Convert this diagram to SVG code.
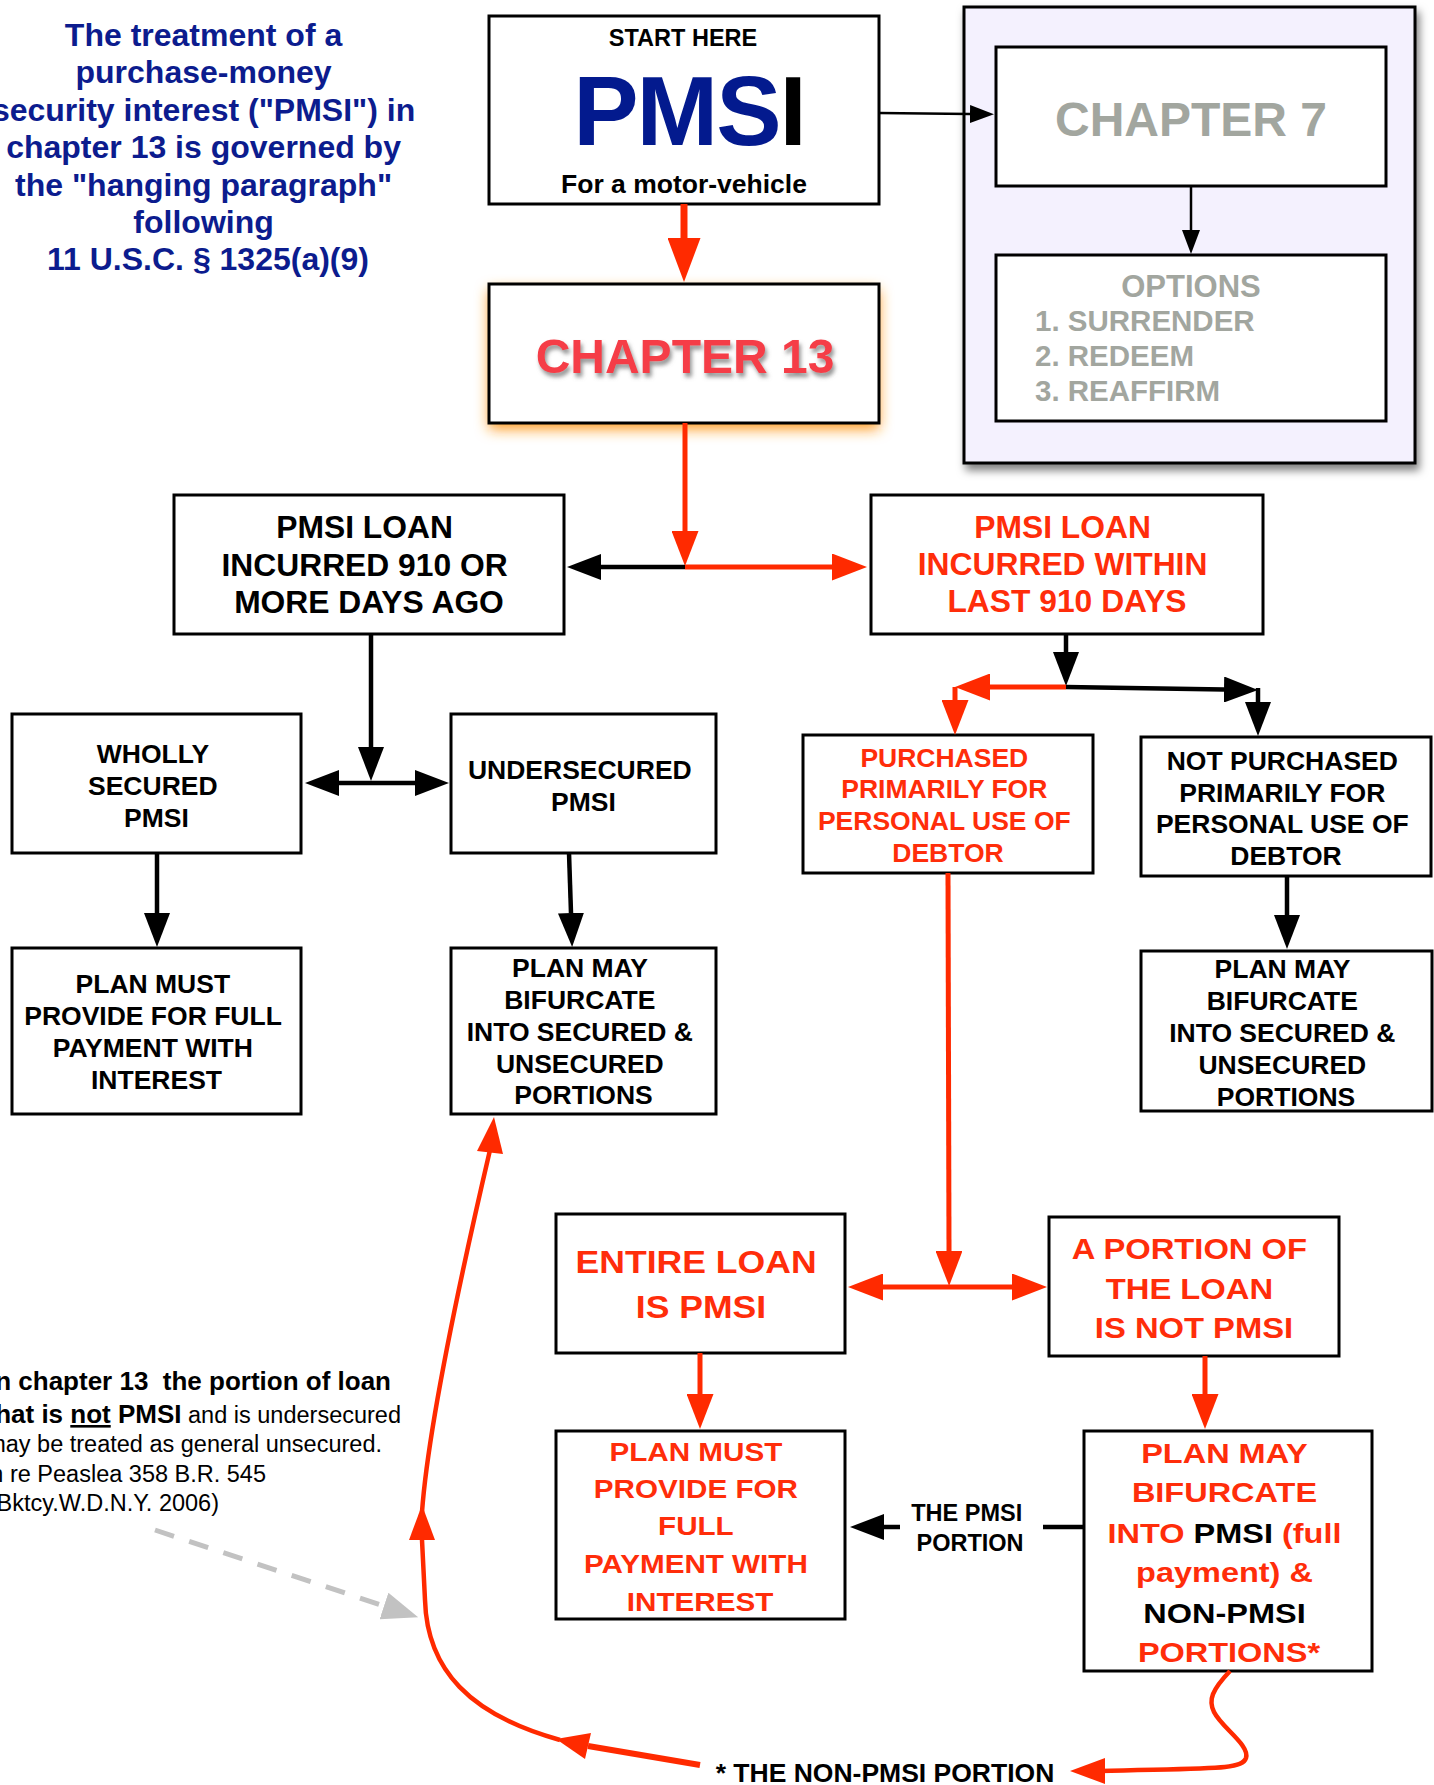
<svg xmlns="http://www.w3.org/2000/svg" width="1434" height="1785" viewBox="0 0 1434 1785">
<style>
.box{fill:#fff;stroke:#000;stroke-width:3}
.t{font-family:"Liberation Sans",Arial,Helvetica,sans-serif;font-weight:bold;text-anchor:middle}
.n{font-family:"Liberation Sans",Arial,Helvetica,sans-serif}
.red{fill:#ff2d0a}
.blk{fill:#000}
.gry{fill:#a2a69f}
.cb{stroke:#000;stroke-width:4.5;fill:none}
.cr{stroke:#ff2a00;stroke-width:5;fill:none}
.ah{fill:#ff2a00}
</style>
<defs>
<marker id="mb" markerUnits="userSpaceOnUse" markerWidth="34" markerHeight="26" refX="0" refY="13" orient="auto"><path d="M0,0 L34,13 L0,26 z" fill="#000"/></marker>
<marker id="ms" markerUnits="userSpaceOnUse" markerWidth="24" markerHeight="18" refX="0" refY="9" orient="auto"><path d="M0,0 L24,9 L0,18 z" fill="#000"/></marker>
<marker id="mr" markerUnits="userSpaceOnUse" markerWidth="35" markerHeight="27" refX="0" refY="13.5" orient="auto"><path d="M0,0 L35,13.5 L0,27 z" fill="#ff2a00"/></marker>
<marker id="mrl" markerUnits="userSpaceOnUse" markerWidth="44" markerHeight="33" refX="0" refY="16.5" orient="auto"><path d="M0,0 L44,16.5 L0,33 z" fill="#ff2a00"/></marker>
<marker id="mg" markerUnits="userSpaceOnUse" markerWidth="36" markerHeight="28" refX="0" refY="14" orient="auto"><path d="M0,0 L36,14 L0,28 z" fill="#c2c2c2"/></marker>
<filter id="glow" x="-20%" y="-40%" width="140%" height="180%"><feGaussianBlur stdDeviation="7"/></filter>
<filter id="tsh" x="-10%" y="-30%" width="120%" height="160%"><feDropShadow dx="2" dy="4" stdDeviation="2" flood-color="#777" flood-opacity="0.8"/></filter>
<filter id="psh" x="-10%" y="-10%" width="125%" height="125%"><feDropShadow dx="3" dy="6" stdDeviation="4" flood-color="#000" flood-opacity="0.5"/></filter>
</defs>

<g id="title">
<text class="t" style="font-size:32px" fill="#0c1c8e">
<tspan x="208" y="46">The treatment of a</tspan>
<tspan x="208" y="83">purchase-money</tspan>
<tspan x="208" y="121">security interest ("PMSI") in</tspan>
<tspan x="208" y="158">chapter 13 is governed by</tspan>
<tspan x="208" y="196">the "hanging paragraph"</tspan>
<tspan x="208" y="233">following</tspan>
<tspan x="208" y="270">11 U.S.C. § 1325(a)(9)</tspan>
</text>
</g>

<g id="start-pmsi">
<rect class="box" x="489" y="16" width="390" height="188"/>
<text class="t blk" x="683" y="46" style="font-size:23.5px">START HERE</text>
<text class="t" x="689" y="145" style="font-size:98px;letter-spacing:-2px"><tspan fill="#031a8e">PMS</tspan><tspan fill="#000">I</tspan></text>
<text class="t blk" x="684" y="193" style="font-size:26.5px">For a motor-vehicle</text>
</g>

<g id="chapter13">
<rect x="489" y="290" width="390" height="139" fill="#ff9a1a" filter="url(#glow)"/>
<rect class="box" x="489" y="284" width="390" height="139"/>
<text class="t" x="685" y="373" style="font-size:48px" fill="#f53c46" filter="url(#tsh)">CHAPTER 13</text>
</g>

<g id="chapter7-panel">
<rect x="964" y="7" width="451" height="456" fill="#f4f1fe" stroke="#000" stroke-width="3" filter="url(#psh)"/>
<g id="chapter7">
<rect class="box" x="996" y="47" width="390" height="139"/>
<text class="t gry" x="1191" y="136" style="font-size:48px">CHAPTER 7</text>
</g>
<g id="options">
<rect class="box" x="996" y="255" width="390" height="166"/>
<text class="t gry" x="1191" y="297" style="font-size:31px">OPTIONS</text>
<text class="n gry" style="font-size:29.5px;font-weight:bold">
<tspan x="1035" y="331">1. SURRENDER</tspan>
<tspan x="1035" y="366">2. REDEEM</tspan>
<tspan x="1035" y="401">3. REAFFIRM</tspan>
</text>
</g>
</g>

<g id="loan-910-or-more">
<rect class="box" x="174" y="495" width="390" height="139"/>
<text class="t blk" style="font-size:31.8px">
<tspan x="369" y="538">PMSI LOAN</tspan>
<tspan x="369" y="576">INCURRED 910 OR</tspan>
<tspan x="369" y="613">MORE DAYS AGO</tspan>
</text>
</g>

<g id="loan-within-910">
<rect class="box" x="871" y="495" width="392" height="139"/>
<text class="t red" style="font-size:31.8px">
<tspan x="1067" y="538">PMSI LOAN</tspan>
<tspan x="1067" y="575">INCURRED WITHIN</tspan>
<tspan x="1067" y="612">LAST 910 DAYS</tspan>
</text>
</g>

<g id="wholly-secured">
<rect class="box" x="12" y="714" width="289" height="139"/>
<text class="t blk" style="font-size:26.5px">
<tspan x="156.5" y="763">WHOLLY</tspan>
<tspan x="156.5" y="795">SECURED</tspan>
<tspan x="156.5" y="827">PMSI</tspan>
</text>
</g>

<g id="undersecured">
<rect class="box" x="451" y="714" width="265" height="139"/>
<text class="t blk" style="font-size:26.5px">
<tspan x="583.5" y="779">UNDERSECURED</tspan>
<tspan x="583.5" y="811">PMSI</tspan>
</text>
</g>

<g id="purchased-personal">
<rect class="box" x="803" y="735" width="290" height="138"/>
<text class="t red" style="font-size:26.5px">
<tspan x="948" y="767">PURCHASED</tspan>
<tspan x="948" y="798">PRIMARILY FOR</tspan>
<tspan x="948" y="830">PERSONAL USE OF</tspan>
<tspan x="948" y="862">DEBTOR</tspan>
</text>
</g>

<g id="not-purchased-personal">
<rect class="box" x="1141" y="737" width="290" height="139"/>
<text class="t blk" style="font-size:26.5px">
<tspan x="1286" y="770">NOT PURCHASED</tspan>
<tspan x="1286" y="802">PRIMARILY FOR</tspan>
<tspan x="1286" y="833">PERSONAL USE OF</tspan>
<tspan x="1286" y="865">DEBTOR</tspan>
</text>
</g>

<g id="plan-must-full">
<rect class="box" x="12" y="948" width="289" height="166"/>
<text class="t blk" style="font-size:26.5px">
<tspan x="156.5" y="993">PLAN MUST</tspan>
<tspan x="156.5" y="1025">PROVIDE FOR FULL</tspan>
<tspan x="156.5" y="1057">PAYMENT WITH</tspan>
<tspan x="156.5" y="1089">INTEREST</tspan>
</text>
</g>

<g id="plan-may-bifurcate-mid">
<rect class="box" x="451" y="948" width="265" height="166"/>
<text class="t blk" style="font-size:26.5px">
<tspan x="583.5" y="977">PLAN MAY</tspan>
<tspan x="583.5" y="1009">BIFURCATE</tspan>
<tspan x="583.5" y="1041">INTO SECURED &amp;</tspan>
<tspan x="583.5" y="1073">UNSECURED</tspan>
<tspan x="583.5" y="1104">PORTIONS</tspan>
</text>
</g>

<g id="plan-may-bifurcate-right">
<rect class="box" x="1141" y="951" width="291" height="160"/>
<text class="t blk" style="font-size:26.5px">
<tspan x="1286" y="978">PLAN MAY</tspan>
<tspan x="1286" y="1010">BIFURCATE</tspan>
<tspan x="1286" y="1042">INTO SECURED &amp;</tspan>
<tspan x="1286" y="1074">UNSECURED</tspan>
<tspan x="1286" y="1106">PORTIONS</tspan>
</text>
</g>

<g id="entire-loan-pmsi">
<rect class="box" x="556" y="1214" width="289" height="139"/>
<text class="t red" style="font-size:31.5px" transform="translate(701 0) scale(1.13 1)">
<tspan x="0" y="1273">ENTIRE LOAN</tspan>
<tspan x="0" y="1318">IS PMSI</tspan>
</text>
</g>

<g id="portion-not-pmsi">
<rect class="box" x="1049" y="1217" width="290" height="139"/>
<text class="t red" style="font-size:29.5px" transform="translate(1194 0) scale(1.11 1)">
<tspan x="0" y="1259">A PORTION OF</tspan>
<tspan x="0" y="1299">THE LOAN</tspan>
<tspan x="0" y="1338">IS NOT PMSI</tspan>
</text>
</g>

<g id="plan-must-full-red">
<rect class="box" x="556" y="1431" width="289" height="188"/>
<text class="t red" style="font-size:26px" transform="translate(700 0) scale(1.14 1)">
<tspan x="0" y="1461">PLAN MUST</tspan>
<tspan x="0" y="1498">PROVIDE FOR</tspan>
<tspan x="0" y="1535">FULL</tspan>
<tspan x="0" y="1573">PAYMENT WITH</tspan>
<tspan x="0" y="1611">INTEREST</tspan>
</text>
</g>

<g id="plan-may-bifurcate-pmsi">
<rect class="box" x="1084" y="1431" width="288" height="240"/>
<text class="t red" style="font-size:28px" transform="translate(1229 0) scale(1.16 1)">
<tspan x="0" y="1463">PLAN MAY</tspan>
<tspan x="0" y="1502">BIFURCATE</tspan>
<tspan x="0" y="1543">INTO <tspan fill="#000">PMSI</tspan> (full</tspan>
<tspan x="0" y="1582">payment) &amp;</tspan>
<tspan x="0" y="1623" fill="#000">NON-PMSI</tspan>
<tspan x="0" y="1662">PORTIONS*</tspan>
</text>
</g>

<g id="label-pmsi-portion">
<text class="t blk" style="font-size:23.5px">
<tspan x="970" y="1521">THE PMSI</tspan>
<tspan x="970" y="1551">PORTION</tspan>
</text>
</g>

<g id="label-non-pmsi-portion">
<text class="t blk" x="885" y="1782" style="font-size:26.5px">* THE NON-PMSI PORTION</text>
</g>

<g id="note">
<text class="n" x="391" y="1390" text-anchor="end" style="font-size:26px;font-weight:bold" xml:space="preserve">In chapter 13  the portion of loan</text>
<text class="n" x="401" y="1423" text-anchor="end" style="font-size:23.5px"><tspan style="font-weight:bold;font-size:26px">that is </tspan><tspan style="font-weight:bold;font-size:26px;text-decoration:underline">not</tspan><tspan style="font-weight:bold;font-size:26px"> PMSI</tspan> and is undersecured</text>
<text class="n" x="382" y="1452" text-anchor="end" style="font-size:23.5px">may be treated as general unsecured.</text>
<text class="n" x="266" y="1482" text-anchor="end" style="font-size:23.5px">In re Peaslea 358 B.R. 545</text>
<text class="n" x="219" y="1511" text-anchor="end" style="font-size:23.5px">(Bktcy.W.D.N.Y. 2006)</text>
</g>

<g id="connectors">
<path class="cr" d="M684,204 V238" style="stroke-width:7" marker-end="url(#mrl)"/>
<path class="cb" d="M879,113 L970,114" style="stroke-width:2.5" marker-end="url(#ms)"/>
<path class="cb" d="M1191,186 V230" style="stroke-width:2.5" marker-end="url(#ms)"/>
<path class="cr" d="M685,423 V531" marker-end="url(#mr)"/>
<path class="cb" d="M685,567 H601" marker-end="url(#mb)"/>
<path class="cr" d="M685,567 H832" marker-end="url(#mr)"/>
<path class="cb" d="M1066,634 V652" marker-end="url(#mb)"/>
<path class="cr" d="M1066,687 H990" marker-end="url(#mr)"/>
<path class="cr" d="M955,687 V700" marker-end="url(#mr)"/>
<path class="cb" d="M1066,687 L1224,689.5" marker-end="url(#mb)"/>
<path class="cb" d="M1258,688 V702" marker-end="url(#mb)"/>
<path class="cb" d="M371,634 V747" marker-end="url(#mb)"/>
<path class="cb" d="M371,783 H339" marker-end="url(#mb)"/>
<path class="cb" d="M371,783 H415" marker-end="url(#mb)"/>
<path class="cb" d="M157,853 V913" marker-end="url(#mb)"/>
<path class="cb" d="M569,853 L571,913" marker-end="url(#mb)"/>
<path class="cb" d="M1287,876 V915" marker-end="url(#mb)"/>
<path class="cr" d="M948,873 L949,1251" marker-end="url(#mr)"/>
<path class="cr" d="M949,1287 H883" marker-end="url(#mr)"/>
<path class="cr" d="M949,1287 H1012" marker-end="url(#mr)"/>
<path class="cr" d="M700,1353 V1394" marker-end="url(#mr)"/>
<path class="cr" d="M1205,1356 V1394" marker-end="url(#mr)"/>
<path class="cb" d="M1084,1527 H1043"/>
<path class="cb" d="M900,1527 H884" marker-end="url(#mb)"/>
<path d="M155,1530 L384,1606" stroke="#c2c2c2" stroke-width="5" stroke-dasharray="20 16" fill="none" marker-end="url(#mg)"/>
<path class="cr" d="M700,1765 L588,1746" style="stroke-width:6"/>
<polygon class="ah" points="556,1739 591,1733 585,1759"/>
<path class="cr" d="M560,1740 C470,1715 427,1670 425,1600 L422,1540" style="stroke-width:4.5"/>
<polygon class="ah" points="422,1505 409,1540 435,1540"/>
<path class="cr" d="M422,1512 C428,1430 455,1300 490,1150" style="stroke-width:4.5"/>
<polygon class="ah" points="494,1117 477,1151 503,1154"/>
<path class="cr" d="M1230,1671 C1212,1690 1208,1700 1214,1712 C1222,1728 1250,1745 1246,1758 C1242,1770 1215,1768 1100,1771" style="stroke-width:4.5"/>
<polygon class="ah" points="1070,1771 1105,1758 1105,1784"/>
</g>
</svg>
